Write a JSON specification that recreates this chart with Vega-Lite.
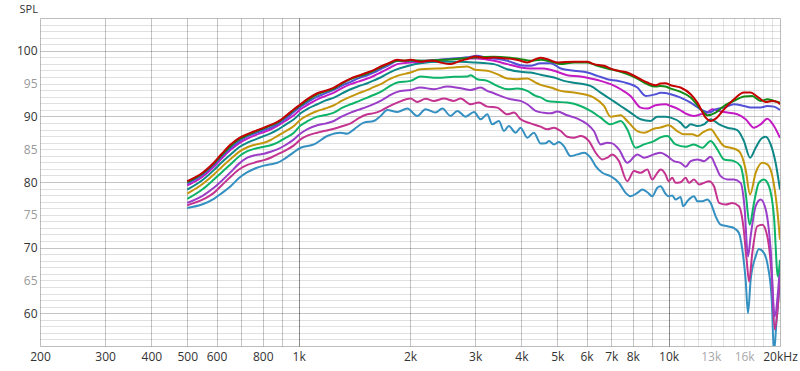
{
  "$schema": "https://vega.github.io/schema/vega-lite/v6.json",
  "width": 740,
  "height": 328,
  "autosize": {"type": "none"},
  "padding": {"left": 40, "top": 18, "right": 20, "bottom": 25},
  "background": "white",
  "config": {
    "view": {"stroke": "#bdbdbd"},
    "axis": {"labelFont": "Open Sans", "labelFontSize": 12, "titleFont": "Open Sans", "labelOverlap": false, "labelFlush": false}
  },
  "datasets": {
    "spl": [
      {"s":"10","f":500,"v":76.05},{"s":"10","f":550,"v":76.6},{"s":"10","f":590,"v":77.43},{"s":"10","f":620,"v":78.3},{"s":"10","f":655,"v":79.36},{"s":"10","f":690,"v":80.6},{"s":"10","f":727,"v":81.5},{"s":"10","f":765,"v":82.1},{"s":"10","f":806,"v":82.5},{"s":"10","f":840,"v":82.7},{"s":"10","f":876,"v":82.93},{"s":"10","f":920,"v":83.6},{"s":"10","f":971,"v":84.56},{"s":"10","f":1012,"v":85.22},{"s":"10","f":1100,"v":85.73},{"s":"10","f":1195,"v":87.01},{"s":"10","f":1299,"v":87.52},{"s":"10","f":1354,"v":87.37},{"s":"10","f":1411,"v":88.03},{"s":"10","f":1501,"v":89.05},{"s":"10","f":1597,"v":89.3},{"s":"10","f":1666,"v":90.07},{"s":"10","f":1737,"v":90.98},{"s":"10","f":1848,"v":90.68},{"s":"10","f":1967,"v":91.19},{"s":"10","f":2092,"v":90.07},{"s":"10","f":2204,"v":91.1},{"s":"10","f":2345,"v":90.58},{"s":"10","f":2445,"v":91.19},{"s":"10","f":2575,"v":90.07},{"s":"10","f":2685,"v":90.83},{"s":"10","f":2828,"v":89.96},{"s":"10","f":2978,"v":90.68},{"s":"10","f":3104,"v":89.56},{"s":"10","f":3235,"v":90.32},{"s":"10","f":3337,"v":88.79},{"s":"10","f":3478,"v":89.3},{"s":"10","f":3589,"v":87.77},{"s":"10","f":3700,"v":88.54},{"s":"10","f":3860,"v":87.52},{"s":"10","f":3980,"v":88.28},{"s":"10","f":4150,"v":86.75},{"s":"10","f":4325,"v":87.52},{"s":"10","f":4510,"v":85.85},{"s":"10","f":4650,"v":85.9},{"s":"10","f":4750,"v":86.24},{"s":"10","f":4900,"v":85.73},{"s":"10","f":5050,"v":86.09},{"s":"10","f":5210,"v":85.48},{"s":"10","f":5430,"v":83.95},{"s":"10","f":5670,"v":84.21},{"s":"10","f":5910,"v":84.46},{"s":"10","f":6150,"v":83.7},{"s":"10","f":6350,"v":82.42},{"s":"10","f":6620,"v":81.4},{"s":"10","f":6970,"v":80.89},{"s":"10","f":7340,"v":79.87},{"s":"10","f":7650,"v":78.34},{"s":"10","f":7890,"v":77.83},{"s":"10","f":8230,"v":78.34},{"s":"10","f":8490,"v":78.85},{"s":"10","f":8760,"v":78.44},{"s":"10","f":9030,"v":77.83},{"s":"10","f":9320,"v":79.11},{"s":"10","f":9510,"v":79.36},{"s":"10","f":9810,"v":78.2},{"s":"10","f":10000,"v":77.83},{"s":"10","f":10230,"v":77.94},{"s":"10","f":10440,"v":77.32},{"s":"10","f":10770,"v":77.73},{"s":"10","f":10950,"v":76.3},{"s":"10","f":11230,"v":77.07},{"s":"10","f":11470,"v":77.58},{"s":"10","f":11710,"v":77.83},{"s":"10","f":11960,"v":77.07},{"s":"10","f":12340,"v":77.07},{"s":"10","f":12720,"v":77.32},{"s":"10","f":12990,"v":76.81},{"s":"10","f":13400,"v":74.77},{"s":"10","f":13820,"v":73.5},{"s":"10","f":14410,"v":73.25},{"s":"10","f":15020,"v":72.99},{"s":"10","f":15490,"v":72.23},{"s":"10","f":15820,"v":69.68},{"s":"10","f":16150,"v":65.09},{"s":"10","f":16390,"v":59.99},{"s":"10","f":16660,"v":65.09},{"s":"10","f":17190,"v":68.66},{"s":"10","f":17530,"v":69.78},{"s":"10","f":18100,"v":69.17},{"s":"10","f":18550,"v":67.13},{"s":"10","f":19000,"v":62.03},{"s":"10","f":19260,"v":54.0},{"s":"10","f":19580,"v":58.97},{"s":"10","f":19870,"v":63.05},{"s":"10","f":20000,"v":65.6},

      {"s":"9","f":500,"v":76.46},{"s":"9","f":550,"v":77.3},{"s":"9","f":590,"v":78.34},{"s":"9","f":620,"v":79.5},{"s":"9","f":655,"v":80.8},{"s":"9","f":690,"v":81.9},{"s":"9","f":727,"v":82.6},{"s":"9","f":765,"v":83.0},{"s":"9","f":806,"v":83.34},{"s":"9","f":840,"v":83.7},{"s":"9","f":876,"v":84.2},{"s":"9","f":920,"v":84.8},{"s":"9","f":971,"v":85.58},{"s":"9","f":1012,"v":86.5},{"s":"9","f":1060,"v":87.1},{"s":"9","f":1123,"v":87.52},{"s":"9","f":1180,"v":87.8},{"s":"9","f":1246,"v":88.13},{"s":"9","f":1310,"v":88.5},{"s":"9","f":1382,"v":88.94},{"s":"9","f":1450,"v":89.7},{"s":"9","f":1534,"v":90.32},{"s":"9","f":1600,"v":90.5},{"s":"9","f":1666,"v":90.83},{"s":"9","f":1750,"v":91.5},{"s":"9","f":1848,"v":92.11},{"s":"9","f":2007,"v":92.72},{"s":"9","f":2092,"v":92.21},{"s":"9","f":2204,"v":92.7},{"s":"9","f":2321,"v":92.36},{"s":"9","f":2471,"v":92.72},{"s":"9","f":2629,"v":92.36},{"s":"9","f":2741,"v":92.72},{"s":"9","f":2917,"v":91.85},{"s":"9","f":3070,"v":92.11},{"s":"9","f":3235,"v":91.49},{"s":"9","f":3443,"v":91.34},{"s":"9","f":3664,"v":90.32},{"s":"9","f":3819,"v":90.58},{"s":"9","f":3980,"v":89.56},{"s":"9","f":4236,"v":88.94},{"s":"9","f":4510,"v":88.44},{"s":"9","f":4700,"v":88.03},{"s":"9","f":4900,"v":88.28},{"s":"9","f":5110,"v":87.77},{"s":"9","f":5320,"v":86.91},{"s":"9","f":5550,"v":86.75},{"s":"9","f":5780,"v":87.01},{"s":"9","f":6090,"v":86.24},{"s":"9","f":6350,"v":84.46},{"s":"9","f":6620,"v":83.44},{"s":"9","f":6830,"v":83.7},{"s":"9","f":7040,"v":84.21},{"s":"9","f":7340,"v":83.19},{"s":"9","f":7730,"v":80.13},{"s":"9","f":8060,"v":81.66},{"s":"9","f":8400,"v":81.4},{"s":"9","f":8760,"v":81.91},{"s":"9","f":9030,"v":80.38},{"s":"9","f":9320,"v":81.4},{"s":"9","f":9510,"v":81.9},{"s":"9","f":9810,"v":81.15},{"s":"9","f":10000,"v":80.13},{"s":"9","f":10230,"v":80.64},{"s":"9","f":10440,"v":79.87},{"s":"9","f":10770,"v":79.97},{"s":"9","f":11120,"v":80.64},{"s":"9","f":11350,"v":79.87},{"s":"9","f":11710,"v":80.38},{"s":"9","f":12090,"v":79.62},{"s":"9","f":12460,"v":79.87},{"s":"9","f":12860,"v":80.13},{"s":"9","f":13260,"v":79.36},{"s":"9","f":13690,"v":76.81},{"s":"9","f":14260,"v":76.56},{"s":"9","f":14870,"v":76.81},{"s":"9","f":15490,"v":76.3},{"s":"9","f":15920,"v":73.25},{"s":"9","f":16250,"v":68.15},{"s":"9","f":16500,"v":64.84},{"s":"9","f":16830,"v":69.17},{"s":"9","f":17360,"v":73.25},{"s":"9","f":17920,"v":73.5},{"s":"9","f":18480,"v":71.72},{"s":"9","f":19000,"v":65.6},{"s":"9","f":19350,"v":57.5},{"s":"9","f":19660,"v":59.99},{"s":"9","f":20000,"v":66.11},

      {"s":"8","f":500,"v":76.81},{"s":"8","f":550,"v":77.9},{"s":"8","f":590,"v":79.11},{"s":"8","f":620,"v":80.2},{"s":"8","f":655,"v":81.5},{"s":"8","f":690,"v":82.8},{"s":"8","f":727,"v":83.7},{"s":"8","f":765,"v":84.1},{"s":"8","f":806,"v":84.31},{"s":"8","f":840,"v":84.6},{"s":"8","f":876,"v":84.97},{"s":"8","f":920,"v":85.6},{"s":"8","f":971,"v":86.5},{"s":"8","f":1012,"v":87.4},{"s":"8","f":1060,"v":88.1},{"s":"8","f":1123,"v":88.64},{"s":"8","f":1180,"v":88.9},{"s":"8","f":1246,"v":89.3},{"s":"8","f":1310,"v":90.0},{"s":"8","f":1382,"v":90.58},{"s":"8","f":1450,"v":91.0},{"s":"8","f":1534,"v":91.49},{"s":"8","f":1600,"v":91.9},{"s":"8","f":1666,"v":92.36},{"s":"8","f":1750,"v":93.1},{"s":"8","f":1848,"v":93.74},{"s":"8","f":2007,"v":94.04},{"s":"8","f":2136,"v":94.4},{"s":"8","f":2321,"v":94.14},{"s":"8","f":2522,"v":94.55},{"s":"8","f":2741,"v":94.3},{"s":"8","f":2917,"v":94.04},{"s":"8","f":3104,"v":94.4},{"s":"8","f":3235,"v":93.89},{"s":"8","f":3372,"v":93.53},{"s":"8","f":3552,"v":93.02},{"s":"8","f":3741,"v":92.61},{"s":"8","f":3980,"v":92.36},{"s":"8","f":4150,"v":91.85},{"s":"8","f":4370,"v":90.83},{"s":"8","f":4600,"v":90.55},{"s":"8","f":4800,"v":90.47},{"s":"8","f":5000,"v":90.73},{"s":"8","f":5320,"v":90.17},{"s":"8","f":5670,"v":89.66},{"s":"8","f":6030,"v":88.79},{"s":"8","f":6280,"v":87.77},{"s":"8","f":6550,"v":85.73},{"s":"8","f":6830,"v":85.99},{"s":"8","f":7040,"v":85.89},{"s":"8","f":7340,"v":84.97},{"s":"8","f":7730,"v":82.93},{"s":"8","f":8230,"v":84.21},{"s":"8","f":8580,"v":83.7},{"s":"8","f":9130,"v":84.21},{"s":"8","f":9510,"v":84.46},{"s":"8","f":9920,"v":83.95},{"s":"8","f":10340,"v":83.18},{"s":"8","f":10770,"v":82.93},{"s":"8","f":11120,"v":82.32},{"s":"8","f":11470,"v":83.18},{"s":"8","f":11960,"v":83.44},{"s":"8","f":12460,"v":83.18},{"s":"8","f":12990,"v":83.85},{"s":"8","f":13400,"v":82.42},{"s":"8","f":13820,"v":80.89},{"s":"8","f":14410,"v":80.38},{"s":"8","f":15020,"v":80.38},{"s":"8","f":15650,"v":79.87},{"s":"8","f":16030,"v":76.3},{"s":"8","f":16390,"v":68.66},{"s":"8","f":16660,"v":71.72},{"s":"8","f":17190,"v":76.3},{"s":"8","f":17730,"v":77.32},{"s":"8","f":18300,"v":75.79},{"s":"8","f":18870,"v":69.68},{"s":"8","f":19350,"v":59.5},{"s":"8","f":19740,"v":63.05},{"s":"8","f":20000,"v":67.13},

      {"s":"7","f":500,"v":77.43},{"s":"7","f":550,"v":78.9},{"s":"7","f":590,"v":80.38},{"s":"7","f":620,"v":81.5},{"s":"7","f":655,"v":82.7},{"s":"7","f":690,"v":83.9},{"s":"7","f":727,"v":84.7},{"s":"7","f":765,"v":85.1},{"s":"7","f":806,"v":85.38},{"s":"7","f":840,"v":85.6},{"s":"7","f":876,"v":85.99},{"s":"7","f":920,"v":86.7},{"s":"7","f":971,"v":87.52},{"s":"7","f":1012,"v":88.6},{"s":"7","f":1060,"v":89.3},{"s":"7","f":1123,"v":89.96},{"s":"7","f":1180,"v":90.2},{"s":"7","f":1246,"v":90.58},{"s":"7","f":1310,"v":91.3},{"s":"7","f":1382,"v":91.85},{"s":"7","f":1450,"v":92.3},{"s":"7","f":1534,"v":92.87},{"s":"7","f":1600,"v":93.3},{"s":"7","f":1666,"v":93.74},{"s":"7","f":1750,"v":94.5},{"s":"7","f":1848,"v":95.16},{"s":"7","f":2007,"v":95.42},{"s":"7","f":2136,"v":96.08},{"s":"7","f":2370,"v":95.88},{"s":"7","f":2629,"v":96.03},{"s":"7","f":2857,"v":96.08},{"s":"7","f":2917,"v":96.28},{"s":"7","f":3040,"v":95.67},{"s":"7","f":3235,"v":95.42},{"s":"7","f":3443,"v":94.65},{"s":"7","f":3664,"v":94.14},{"s":"7","f":3899,"v":94.25},{"s":"7","f":4150,"v":93.89},{"s":"7","f":4370,"v":93.12},{"s":"7","f":4510,"v":92.9},{"s":"7","f":4700,"v":92.36},{"s":"7","f":5000,"v":92.21},{"s":"7","f":5320,"v":92.11},{"s":"7","f":5780,"v":91.59},{"s":"7","f":6150,"v":90.83},{"s":"7","f":6550,"v":89.81},{"s":"7","f":6970,"v":88.79},{"s":"7","f":7420,"v":89.3},{"s":"7","f":7730,"v":88.03},{"s":"7","f":8140,"v":85.22},{"s":"7","f":8580,"v":85.73},{"s":"7","f":9130,"v":86.24},{"s":"7","f":9510,"v":86.8},{"s":"7","f":9920,"v":87.01},{"s":"7","f":10440,"v":85.73},{"s":"7","f":11120,"v":85.38},{"s":"7","f":11710,"v":85.73},{"s":"7","f":12340,"v":85.22},{"s":"7","f":12990,"v":86.24},{"s":"7","f":13540,"v":84.97},{"s":"7","f":14110,"v":83.44},{"s":"7","f":15020,"v":83.18},{"s":"7","f":15650,"v":82.42},{"s":"7","f":16150,"v":78.34},{"s":"7","f":16560,"v":73.5},{"s":"7","f":17010,"v":76.81},{"s":"7","f":17530,"v":79.87},{"s":"7","f":18100,"v":80.38},{"s":"7","f":18670,"v":79.36},{"s":"7","f":19260,"v":74.77},{"s":"7","f":19740,"v":65.6},{"s":"7","f":20000,"v":68.15},

      {"s":"6","f":500,"v":78.24},{"s":"6","f":550,"v":79.7},{"s":"6","f":590,"v":81.15},{"s":"6","f":620,"v":82.3},{"s":"6","f":655,"v":83.5},{"s":"6","f":690,"v":84.6},{"s":"6","f":727,"v":85.3},{"s":"6","f":765,"v":85.7},{"s":"6","f":806,"v":85.99},{"s":"6","f":840,"v":86.4},{"s":"6","f":876,"v":87.01},{"s":"6","f":920,"v":87.7},{"s":"6","f":971,"v":88.54},{"s":"6","f":1012,"v":89.5},{"s":"6","f":1060,"v":90.2},{"s":"6","f":1123,"v":90.83},{"s":"6","f":1180,"v":91.2},{"s":"6","f":1246,"v":91.7},{"s":"6","f":1310,"v":92.4},{"s":"6","f":1382,"v":93.02},{"s":"6","f":1450,"v":93.5},{"s":"6","f":1534,"v":94.04},{"s":"6","f":1600,"v":94.5},{"s":"6","f":1666,"v":94.91},{"s":"6","f":1750,"v":95.6},{"s":"6","f":1848,"v":96.18},{"s":"6","f":2007,"v":96.69},{"s":"6","f":2136,"v":97.2},{"s":"6","f":2370,"v":97.3},{"s":"6","f":2629,"v":97.46},{"s":"6","f":2857,"v":97.61},{"s":"6","f":3000,"v":97.1},{"s":"6","f":3235,"v":96.95},{"s":"6","f":3443,"v":96.44},{"s":"6","f":3664,"v":95.78},{"s":"6","f":3899,"v":95.67},{"s":"6","f":4150,"v":95.78},{"s":"6","f":4370,"v":95.16},{"s":"6","f":4510,"v":94.8},{"s":"6","f":4800,"v":94.4},{"s":"6","f":5110,"v":93.89},{"s":"6","f":5550,"v":93.63},{"s":"6","f":5910,"v":93.38},{"s":"6","f":6280,"v":92.87},{"s":"6","f":6690,"v":91.59},{"s":"6","f":6970,"v":89.96},{"s":"6","f":7420,"v":90.17},{"s":"6","f":7730,"v":89.3},{"s":"6","f":8230,"v":87.77},{"s":"6","f":8580,"v":87.52},{"s":"6","f":9130,"v":88.13},{"s":"6","f":9510,"v":88.3},{"s":"6","f":10000,"v":88.64},{"s":"6","f":10550,"v":87.77},{"s":"6","f":11000,"v":87.26},{"s":"6","f":11590,"v":87.26},{"s":"6","f":11960,"v":87.01},{"s":"6","f":12340,"v":87.52},{"s":"6","f":12990,"v":88.03},{"s":"6","f":13540,"v":86.75},{"s":"6","f":14110,"v":85.48},{"s":"6","f":14710,"v":85.22},{"s":"6","f":15490,"v":84.71},{"s":"6","f":16150,"v":81.91},{"s":"6","f":16600,"v":78.09},{"s":"6","f":17190,"v":81.4},{"s":"6","f":17920,"v":82.93},{"s":"6","f":18480,"v":82.68},{"s":"6","f":19070,"v":80.89},{"s":"6","f":19660,"v":75.79},{"s":"6","f":20000,"v":71.21},

      {"s":"5","f":500,"v":78.85},{"s":"5","f":550,"v":80.3},{"s":"5","f":590,"v":81.81},{"s":"5","f":620,"v":83.0},{"s":"5","f":655,"v":84.2},{"s":"5","f":690,"v":85.3},{"s":"5","f":727,"v":86.0},{"s":"5","f":765,"v":86.5},{"s":"5","f":806,"v":87.01},{"s":"5","f":840,"v":87.4},{"s":"5","f":876,"v":87.93},{"s":"5","f":920,"v":88.7},{"s":"5","f":971,"v":89.56},{"s":"5","f":1012,"v":90.47},{"s":"5","f":1060,"v":91.2},{"s":"5","f":1123,"v":91.85},{"s":"5","f":1180,"v":92.4},{"s":"5","f":1246,"v":92.87},{"s":"5","f":1310,"v":93.5},{"s":"5","f":1382,"v":94.14},{"s":"5","f":1450,"v":94.6},{"s":"5","f":1534,"v":95.06},{"s":"5","f":1600,"v":95.5},{"s":"5","f":1666,"v":95.93},{"s":"5","f":1750,"v":96.6},{"s":"5","f":1848,"v":97.2},{"s":"5","f":2007,"v":97.81},{"s":"5","f":2136,"v":98.1},{"s":"5","f":2420,"v":98.32},{"s":"5","f":2741,"v":98.32},{"s":"5","f":3000,"v":98.22},{"s":"5","f":3372,"v":97.97},{"s":"5","f":3664,"v":97.2},{"s":"5","f":3980,"v":96.79},{"s":"5","f":4236,"v":96.69},{"s":"5","f":4510,"v":96.35},{"s":"5","f":4900,"v":95.93},{"s":"5","f":5210,"v":95.42},{"s":"5","f":5670,"v":95.06},{"s":"5","f":6150,"v":94.65},{"s":"5","f":6550,"v":93.63},{"s":"5","f":6970,"v":92.61},{"s":"5","f":7420,"v":91.59},{"s":"5","f":7890,"v":90.58},{"s":"5","f":8400,"v":89.56},{"s":"5","f":8940,"v":89.3},{"s":"5","f":9320,"v":89.96},{"s":"5","f":9810,"v":89.96},{"s":"5","f":10130,"v":89.81},{"s":"5","f":10770,"v":89.05},{"s":"5","f":11120,"v":88.28},{"s":"5","f":11470,"v":88.79},{"s":"5","f":11960,"v":88.54},{"s":"5","f":12460,"v":88.79},{"s":"5","f":12990,"v":89.56},{"s":"5","f":13690,"v":88.79},{"s":"5","f":14410,"v":88.28},{"s":"5","f":15330,"v":87.92},{"s":"5","f":15980,"v":86.24},{"s":"5","f":16600,"v":83.7},{"s":"5","f":17190,"v":85.22},{"s":"5","f":17730,"v":86.5},{"s":"5","f":18300,"v":86.91},{"s":"5","f":18870,"v":85.73},{"s":"5","f":19460,"v":82.93},{"s":"5","f":20000,"v":78.85},

      {"s":"4","f":500,"v":79.47},{"s":"4","f":550,"v":80.8},{"s":"4","f":590,"v":82.32},{"s":"4","f":620,"v":83.6},{"s":"4","f":655,"v":84.9},{"s":"4","f":690,"v":85.9},{"s":"4","f":727,"v":86.6},{"s":"4","f":765,"v":87.15},{"s":"4","f":806,"v":87.62},{"s":"4","f":840,"v":88.0},{"s":"4","f":876,"v":88.54},{"s":"4","f":920,"v":89.3},{"s":"4","f":971,"v":90.17},{"s":"4","f":1012,"v":91.09},{"s":"4","f":1060,"v":91.8},{"s":"4","f":1123,"v":92.61},{"s":"4","f":1180,"v":93.1},{"s":"4","f":1246,"v":93.63},{"s":"4","f":1310,"v":94.3},{"s":"4","f":1382,"v":94.91},{"s":"4","f":1450,"v":95.3},{"s":"4","f":1534,"v":95.77},{"s":"4","f":1600,"v":96.2},{"s":"4","f":1666,"v":96.69},{"s":"4","f":1750,"v":97.3},{"s":"4","f":1848,"v":97.97},{"s":"4","f":2007,"v":98.22},{"s":"4","f":2136,"v":98.32},{"s":"4","f":2420,"v":98.63},{"s":"4","f":2741,"v":98.83},{"s":"4","f":3040,"v":98.83},{"s":"4","f":3372,"v":98.48},{"s":"4","f":3664,"v":97.97},{"s":"4","f":3980,"v":97.46},{"s":"4","f":4236,"v":97.3},{"s":"4","f":4600,"v":97.3},{"s":"4","f":4900,"v":96.95},{"s":"4","f":5320,"v":96.28},{"s":"4","f":5780,"v":96.08},{"s":"4","f":6150,"v":95.77},{"s":"4","f":6550,"v":95.42},{"s":"4","f":6970,"v":94.91},{"s":"4","f":7420,"v":94.14},{"s":"4","f":7890,"v":93.12},{"s":"4","f":8400,"v":91.34},{"s":"4","f":8760,"v":91.19},{"s":"4","f":9220,"v":91.7},{"s":"4","f":9810,"v":91.85},{"s":"4","f":10130,"v":91.59},{"s":"4","f":10660,"v":91.08},{"s":"4","f":11230,"v":90.32},{"s":"4","f":11710,"v":90.07},{"s":"4","f":12210,"v":90.32},{"s":"4","f":12720,"v":90.58},{"s":"4","f":13130,"v":91.08},{"s":"4","f":13690,"v":90.83},{"s":"4","f":14410,"v":90.58},{"s":"4","f":15330,"v":90.32},{"s":"4","f":16150,"v":89.56},{"s":"4","f":17010,"v":88.28},{"s":"4","f":17730,"v":88.79},{"s":"4","f":18480,"v":89.66},{"s":"4","f":19260,"v":88.54},{"s":"4","f":20000,"v":86.75},

      {"s":"3","f":500,"v":79.77},{"s":"3","f":550,"v":81.1},{"s":"3","f":590,"v":82.63},{"s":"3","f":620,"v":83.9},{"s":"3","f":655,"v":85.2},{"s":"3","f":690,"v":86.2},{"s":"3","f":727,"v":86.95},{"s":"3","f":765,"v":87.45},{"s":"3","f":806,"v":87.93},{"s":"3","f":840,"v":88.3},{"s":"3","f":876,"v":88.79},{"s":"3","f":920,"v":89.6},{"s":"3","f":971,"v":90.68},{"s":"3","f":1012,"v":91.49},{"s":"3","f":1060,"v":92.2},{"s":"3","f":1123,"v":93.02},{"s":"3","f":1180,"v":93.5},{"s":"3","f":1246,"v":94.04},{"s":"3","f":1310,"v":94.7},{"s":"3","f":1382,"v":95.27},{"s":"3","f":1450,"v":95.8},{"s":"3","f":1534,"v":96.28},{"s":"3","f":1600,"v":96.7},{"s":"3","f":1666,"v":97.2},{"s":"3","f":1750,"v":97.8},{"s":"3","f":1848,"v":98.43},{"s":"3","f":2007,"v":98.43},{"s":"3","f":2136,"v":98.48},{"s":"3","f":2400,"v":98.65},{"s":"3","f":2629,"v":98.83},{"s":"3","f":2850,"v":99.0},{"s":"3","f":3040,"v":99.24},{"s":"3","f":3200,"v":99.0},{"s":"3","f":3372,"v":98.83},{"s":"3","f":3664,"v":98.48},{"s":"3","f":3980,"v":97.81},{"s":"3","f":4236,"v":97.71},{"s":"3","f":4510,"v":98.1},{"s":"3","f":4800,"v":98.12},{"s":"3","f":5110,"v":97.3},{"s":"3","f":5550,"v":96.95},{"s":"3","f":6030,"v":96.69},{"s":"3","f":6420,"v":96.18},{"s":"3","f":6830,"v":95.67},{"s":"3","f":7270,"v":95.42},{"s":"3","f":7730,"v":95.06},{"s":"3","f":8230,"v":94.4},{"s":"3","f":8670,"v":93.12},{"s":"3","f":9220,"v":93.38},{"s":"3","f":9510,"v":93.6},{"s":"3","f":9810,"v":93.55},{"s":"3","f":10130,"v":93.38},{"s":"3","f":10770,"v":92.87},{"s":"3","f":11470,"v":92.1},{"s":"3","f":12210,"v":91.08},{"s":"3","f":12860,"v":90.58},{"s":"3","f":13400,"v":91.08},{"s":"3","f":14110,"v":91.34},{"s":"3","f":15020,"v":91.85},{"s":"3","f":15980,"v":91.59},{"s":"3","f":16830,"v":91.34},{"s":"3","f":17730,"v":91.34},{"s":"3","f":18480,"v":91.59},{"s":"3","f":19260,"v":91.49},{"s":"3","f":20000,"v":90.98},

      {"s":"2","f":500,"v":79.97},{"s":"2","f":550,"v":81.3},{"s":"2","f":590,"v":82.83},{"s":"2","f":620,"v":84.1},{"s":"2","f":655,"v":85.5},{"s":"2","f":690,"v":86.5},{"s":"2","f":727,"v":87.15},{"s":"2","f":765,"v":87.7},{"s":"2","f":806,"v":88.18},{"s":"2","f":840,"v":88.6},{"s":"2","f":876,"v":89.05},{"s":"2","f":920,"v":89.9},{"s":"2","f":971,"v":90.98},{"s":"2","f":1012,"v":91.7},{"s":"2","f":1060,"v":92.5},{"s":"2","f":1123,"v":93.38},{"s":"2","f":1180,"v":93.8},{"s":"2","f":1246,"v":94.25},{"s":"2","f":1310,"v":95.0},{"s":"2","f":1382,"v":95.67},{"s":"2","f":1450,"v":96.1},{"s":"2","f":1534,"v":96.54},{"s":"2","f":1600,"v":97.0},{"s":"2","f":1666,"v":97.46},{"s":"2","f":1750,"v":98.0},{"s":"2","f":1848,"v":98.48},{"s":"2","f":2007,"v":98.53},{"s":"2","f":2136,"v":98.48},{"s":"2","f":2400,"v":98.6},{"s":"2","f":2629,"v":98.73},{"s":"2","f":2800,"v":98.85},{"s":"2","f":3000,"v":98.99},{"s":"2","f":3372,"v":99.09},{"s":"2","f":3664,"v":98.99},{"s":"2","f":3980,"v":98.73},{"s":"2","f":4236,"v":98.48},{"s":"2","f":4510,"v":98.65},{"s":"2","f":4800,"v":98.37},{"s":"2","f":5110,"v":97.97},{"s":"2","f":5550,"v":98.22},{"s":"2","f":6030,"v":98.22},{"s":"2","f":6420,"v":97.71},{"s":"2","f":6830,"v":97.3},{"s":"2","f":7270,"v":96.95},{"s":"2","f":7730,"v":96.44},{"s":"2","f":8230,"v":95.77},{"s":"2","f":8760,"v":94.91},{"s":"2","f":9220,"v":94.55},{"s":"2","f":9510,"v":94.65},{"s":"2","f":9810,"v":94.55},{"s":"2","f":10130,"v":94.24},{"s":"2","f":10770,"v":93.74},{"s":"2","f":11470,"v":92.87},{"s":"2","f":12210,"v":91.08},{"s":"2","f":12720,"v":90.17},{"s":"2","f":13400,"v":90.58},{"s":"2","f":14110,"v":91.59},{"s":"2","f":15020,"v":92.36},{"s":"2","f":15980,"v":93.02},{"s":"2","f":16830,"v":93.12},{"s":"2","f":17730,"v":92.36},{"s":"2","f":18480,"v":92.61},{"s":"2","f":19260,"v":92.36},{"s":"2","f":20000,"v":92.1},

      {"s":"1","f":500,"v":80.13},{"s":"1","f":550,"v":81.4},{"s":"1","f":590,"v":82.93},{"s":"1","f":620,"v":84.3},{"s":"1","f":655,"v":85.7},{"s":"1","f":690,"v":86.7},{"s":"1","f":727,"v":87.3},{"s":"1","f":765,"v":87.8},{"s":"1","f":806,"v":88.28},{"s":"1","f":840,"v":88.7},{"s":"1","f":876,"v":89.15},{"s":"1","f":920,"v":90.0},{"s":"1","f":971,"v":91.09},{"s":"1","f":1012,"v":91.85},{"s":"1","f":1060,"v":92.7},{"s":"1","f":1123,"v":93.53},{"s":"1","f":1180,"v":93.9},{"s":"1","f":1246,"v":94.4},{"s":"1","f":1310,"v":95.1},{"s":"1","f":1382,"v":95.77},{"s":"1","f":1450,"v":96.2},{"s":"1","f":1534,"v":96.69},{"s":"1","f":1600,"v":97.1},{"s":"1","f":1666,"v":97.61},{"s":"1","f":1750,"v":98.1},{"s":"1","f":1848,"v":98.63},{"s":"1","f":1930,"v":98.5},{"s":"1","f":2007,"v":98.63},{"s":"1","f":2136,"v":98.32},{"s":"1","f":2230,"v":98.5},{"s":"1","f":2321,"v":98.48},{"s":"1","f":2420,"v":98.22},{"s":"1","f":2575,"v":97.97},{"s":"1","f":2741,"v":98.48},{"s":"1","f":2870,"v":98.8},{"s":"1","f":3000,"v":99.14},{"s":"1","f":3200,"v":98.9},{"s":"1","f":3372,"v":98.99},{"s":"1","f":3520,"v":98.9},{"s":"1","f":3664,"v":98.83},{"s":"1","f":3820,"v":98.7},{"s":"1","f":3980,"v":98.48},{"s":"1","f":4150,"v":98.22},{"s":"1","f":4370,"v":98.73},{"s":"1","f":4510,"v":98.95},{"s":"1","f":4700,"v":98.73},{"s":"1","f":5000,"v":98.22},{"s":"1","f":5250,"v":98.3},{"s":"1","f":5550,"v":98.32},{"s":"1","f":6030,"v":98.32},{"s":"1","f":6280,"v":97.97},{"s":"1","f":6690,"v":97.71},{"s":"1","f":7120,"v":97.1},{"s":"1","f":7420,"v":96.9},{"s":"1","f":7730,"v":96.69},{"s":"1","f":8230,"v":95.93},{"s":"1","f":8760,"v":95.16},{"s":"1","f":9220,"v":94.76},{"s":"1","f":9510,"v":95.0},{"s":"1","f":9810,"v":95.06},{"s":"1","f":10130,"v":94.75},{"s":"1","f":10770,"v":94.4},{"s":"1","f":11470,"v":93.38},{"s":"1","f":11960,"v":92.1},{"s":"1","f":12590,"v":89.81},{"s":"1","f":12990,"v":89.3},{"s":"1","f":13400,"v":89.66},{"s":"1","f":14110,"v":91.08},{"s":"1","f":15020,"v":92.61},{"s":"1","f":15980,"v":93.63},{"s":"1","f":16660,"v":93.63},{"s":"1","f":17360,"v":93.02},{"s":"1","f":18300,"v":92.21},{"s":"1","f":19070,"v":92.36},{"s":"1","f":19660,"v":92.21},{"s":"1","f":20000,"v":91.85}
    ]
  },
  "data": {"name": "spl"},
  "resolve": {"axis": {"x": "independent", "y": "independent"}},
  "layer": [
    {
      "mark": {"type": "line", "opacity": 0},
      "encoding": {
        "x": {"field": "f", "type": "quantitative", "scale": {"type": "log", "domain": [200, 20000], "nice": false},
          "axis": {"orient": "bottom", "values": [11000,12000,13000,14000,15000,16000,17000,18000,19000], "grid": true, "gridColor": "#000000", "gridOpacity": 0.11, "labels": false, "ticks": false, "domain": false, "title": null}},
        "y": {"field": "v", "type": "quantitative", "scale": {"domain": [55, 105], "nice": false, "zero": false},
          "axis": {"orient": "left", "values": [56,57,58,59,61,62,63,64,65,66,67,68,69,71,72,73,74,75,76,77,78,79,81,82,83,84,85,86,87,88,89,91,92,93,94,95,96,97,98,99,101,102,103,104], "grid": true, "gridColor": "#000000", "gridOpacity": 0.12, "labels": false, "ticks": false, "domain": false, "title": null}},
        "detail": {"field": "s"}
      }
    },
    {
      "mark": {"type": "line", "opacity": 0},
      "encoding": {
        "x": {"field": "f", "type": "quantitative", "scale": {"type": "log", "domain": [200, 20000], "nice": false},
          "axis": {"orient": "bottom", "values": [300,400,500,600,700,800,900,2000,3000,4000,5000,6000,7000,8000,9000], "grid": true, "gridColor": "#000000", "gridOpacity": 0.23, "labels": false, "ticks": false, "domain": false, "title": null}},
        "y": {"field": "v", "type": "quantitative", "scale": {"domain": [55, 105], "nice": false, "zero": false},
          "axis": {"orient": "left", "values": [60,70,80,90,100], "grid": true, "gridColor": "#000000", "gridOpacity": 0.23, "ticks": false, "domain": false, "labelColor": "#333333", "labelPadding": 3,
            "title": "SPL", "titleAngle": 0, "titleAlign": "left", "titleBaseline": "alphabetic", "titleX": -21, "titleY": -6, "titleFontSize": 11, "titleFontWeight": "normal", "titleColor": "#333333"}},
        "detail": {"field": "s"}
      }
    },
    {
      "mark": {"type": "line", "opacity": 0},
      "encoding": {
        "x": {"field": "f", "type": "quantitative", "scale": {"type": "log", "domain": [200, 20000], "nice": false},
          "axis": {"orient": "bottom", "values": [1000, 10000], "grid": true, "gridColor": "#000000", "gridOpacity": 0.45, "labels": false, "ticks": false, "domain": false, "title": null}},
        "y": {"field": "v", "type": "quantitative", "scale": {"domain": [55, 105], "nice": false, "zero": false},
          "axis": {"orient": "left", "values": [65,75,85,95], "grid": false, "ticks": false, "domain": false, "labelColor": "#9a9a9a", "labelPadding": 3, "title": null}},
        "detail": {"field": "s"}
      }
    },
    {
      "mark": {"type": "line", "opacity": 0},
      "encoding": {
        "x": {"field": "f", "type": "quantitative", "scale": {"type": "log", "domain": [200, 20000], "nice": false},
          "axis": {"orient": "bottom", "values": [200,300,400,500,600,800,1000,2000,3000,4000,5000,6000,7000,8000,10000,20000], "grid": false, "ticks": false, "domain": false, "labelColor": "#333333", "labelPadding": 5, "title": null,
            "labelExpr": "datum.value == 20000 ? '20kHz' : (datum.value >= 1000 ? (datum.value / 1000) + 'k' : '' + datum.value)"}},
        "y": {"field": "v", "type": "quantitative", "scale": {"domain": [55, 105], "nice": false, "zero": false}, "axis": null},
        "detail": {"field": "s"}
      }
    },
    {
      "mark": {"type": "line", "opacity": 0},
      "encoding": {
        "x": {"field": "f", "type": "quantitative", "scale": {"type": "log", "domain": [200, 20000], "nice": false},
          "axis": {"orient": "bottom", "values": [13000, 16000], "grid": false, "ticks": false, "domain": false, "labelColor": "#a8a8a8", "labelPadding": 5, "title": null,
            "labelExpr": "(datum.value / 1000) + 'k'"}},
        "y": {"field": "v", "type": "quantitative", "scale": {"domain": [55, 105], "nice": false, "zero": false}, "axis": null},
        "detail": {"field": "s"}
      }
    },
    {
      "mark": {"type": "line", "strokeWidth": 2, "interpolate": "monotone", "clip": true},
      "encoding": {
        "x": {"field": "f", "type": "quantitative", "scale": {"type": "log", "domain": [200, 20000], "nice": false}, "axis": null},
        "y": {"field": "v", "type": "quantitative", "scale": {"domain": [55, 105], "nice": false, "zero": false}, "axis": null},
        "color": {"field": "s", "type": "nominal", "legend": null,
          "scale": {"domain": ["10","9","8","7","6","5","4","3","2","1"], "range": ["#3590c2","#c4338f","#9a3dc8","#0db368","#c4960c","#0d8787","#c41ac4","#5252d6","#138a13","#c40000"]}}
      }
    }
  ]
}
